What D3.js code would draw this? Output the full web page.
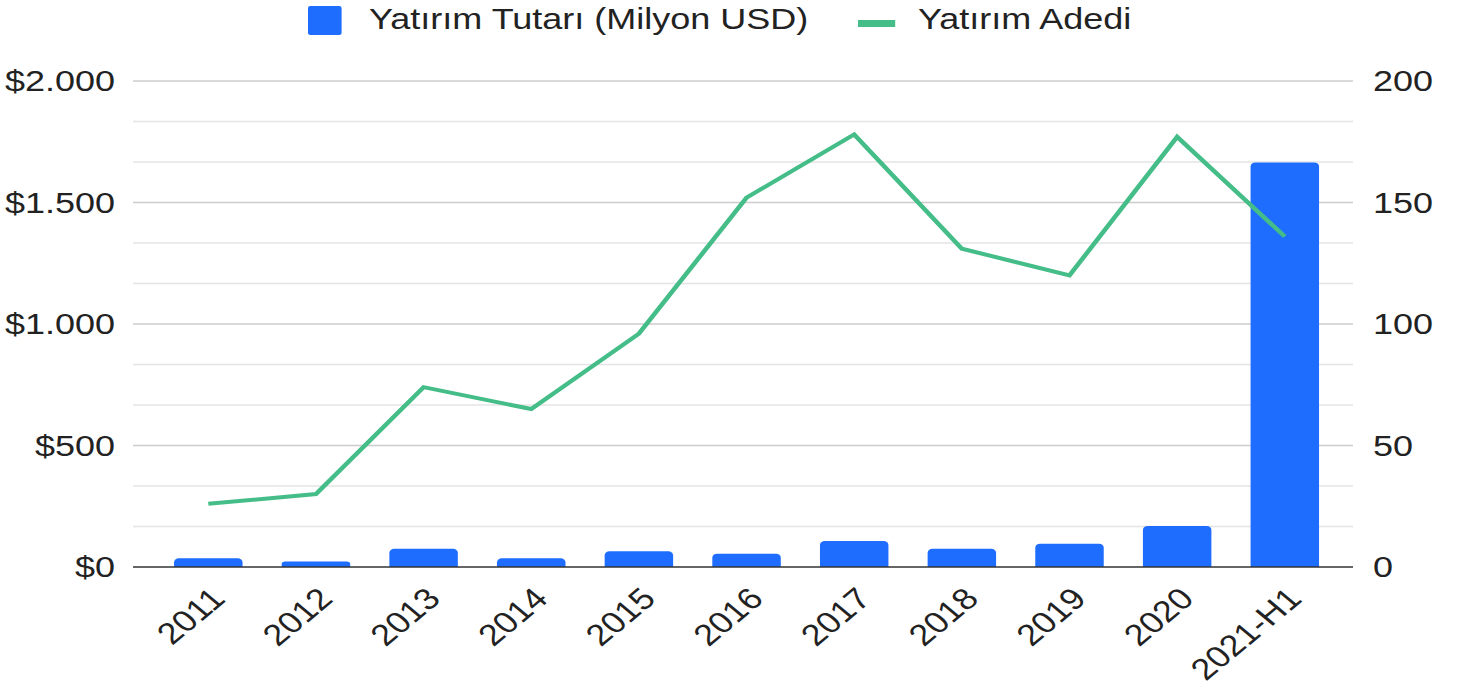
<!DOCTYPE html>
<html>
<head>
<meta charset="utf-8">
<style>
  body { margin: 0; background: #fff; }
  text { font-family: "Liberation Sans", Arial, sans-serif; fill: #222; }
</style>
</head>
<body>
<div id="viz"></div>
<script src="https://d3js.org/d3.v7.min.js"></script>
<script>
  // data
  const years = ["2011", "2012", "2013", "2014", "2015", "2016", "2017", "2018", "2019", "2020", "2021-H1"];
  const amounts = [36, 23, 75, 36, 65, 55, 107, 75, 96, 169, 1665];   // Yatırım Tutarı (Milyon USD)
  const counts = [26, 30, 74, 65, 96, 152, 178, 131, 120, 177, 136];  // Yatırım Adedi
  const leftTicks = [0, 500, 1000, 1500, 2000];
  const leftLabels = ["$0", "$500", "$1.000", "$1.500", "$2.000"];
  const rightTicks = [0, 50, 100, 150, 200];
  const seriesNames = ["Yatırım Tutarı (Milyon USD)", "Yatırım Adedi"];

  const width = 1464,
        height = 689,
        sx = 1.2;   // the picture is stretched sideways

  const blue = "#1e6dff",
        green = "#45bd88";

  const svg = d3.select("#viz").append("svg")
      .attr("width", width)
      .attr("height", height);

  // everything is drawn in an unstretched frame, then scaled on x
  const g = svg.append("g").attr("transform", `scale(${sx},1)`);

  const gridLeft = 133 / sx,
        gridRight = 1353 / sx;

  const x = d3.scaleBand()
      .domain(years)
      .range([136.6 / sx, 1356.5 / sx])
      .paddingInner(0.364)
      .paddingOuter(0.348);

  const y = d3.scaleLinear().domain([0, 2000]).range([567, 81]);
  const y2 = d3.scaleLinear().domain([0, 200]).range([567, 81]);

  // gridlines, 3 per major step
  const grid = d3.range(13).map(i => i * 2000 / 12);
  g.selectAll(".grid")
      .data(grid.slice(1))
    .enter().append("line")
      .attr("x1", gridLeft)
      .attr("x2", gridRight)
      .attr("y1", d => y(d))
      .attr("y2", d => y(d))
      .attr("stroke", (d, i) => (i + 1) % 3 === 0 ? "#cccccc" : "#e4e4e4")
      .attr("stroke-width", 1.5);

  // bars with rounded tops
  const bw = x.bandwidth(), r = 4;
  g.selectAll(".bar")
      .data(amounts)
    .enter().append("path")
      .attr("fill", blue)
      .attr("d", (d, i) => {
        const x0 = x(years[i]), top = y(d), base = y(0);
        const rr = Math.min(r, (base - top) / 2);
        return `M${x0},${base}V${top + rr}a${rr},${rr} 0 0 1 ${rr},${-rr}` +
               `H${x0 + bw - rr}a${rr},${rr} 0 0 1 ${rr},${rr}V${base}Z`;
      });

  // baseline
  g.append("line")
      .attr("x1", gridLeft)
      .attr("x2", gridRight)
      .attr("y1", y(0))
      .attr("y2", y(0))
      .attr("stroke", "#333")
      .attr("stroke-width", 1.6);

  // count line
  const line = d3.line()
      .x((d, i) => x(years[i]) + bw / 2)
      .y(d => y2(d));

  g.append("path")
      .datum(counts)
      .attr("d", line)
      .attr("fill", "none")
      .attr("stroke", green)
      .attr("stroke-width", 4)
      .attr("stroke-linejoin", "miter");

  // left axis labels
  g.selectAll(".ly")
      .data(leftTicks)
    .enter().append("text")
      .attr("x", 115 / sx)
      .attr("y", d => y(d))
      .attr("dy", "0.35em")
      .attr("text-anchor", "end")
      .style("font-size", "30px")
      .text((d, i) => leftLabels[i]);

  // right axis labels
  g.selectAll(".ry")
      .data(rightTicks)
    .enter().append("text")
      .attr("x", 1373 / sx)
      .attr("y", d => y2(d))
      .attr("dy", "0.35em")
      .style("font-size", "30px")
      .text(d => d);

  // x labels, rotated
  g.selectAll(".xl")
      .data(years)
    .enter().append("text")
      .attr("transform", d => `translate(${x(d) + bw / 2 + 8},${y(0) + 26}) rotate(-45)`)
      .attr("dy", "0.35em")
      .attr("text-anchor", "end")
      .style("font-size", "30px")
      .text(d => d);

  // legend
  const legend = g.append("g");
  legend.append("rect")
      .attr("x", 308 / sx)
      .attr("y", 6)
      .attr("width", 28)
      .attr("height", 29)
      .attr("rx", 2)
      .attr("fill", blue);
  legend.append("text")
      .attr("x", 369 / sx)
      .attr("y", 19)
      .attr("dy", "0.35em")
      .style("font-size", "30px")
      .text(seriesNames[0]);
  legend.append("rect")
      .attr("x", 858 / sx)
      .attr("y", 20)
      .attr("width", 31)
      .attr("height", 7)
      .attr("fill", green);
  legend.append("text")
      .attr("x", 918 / sx)
      .attr("y", 19)
      .attr("dy", "0.35em")
      .style("font-size", "30px")
      .text(seriesNames[1]);
</script>
</body>
</html>
